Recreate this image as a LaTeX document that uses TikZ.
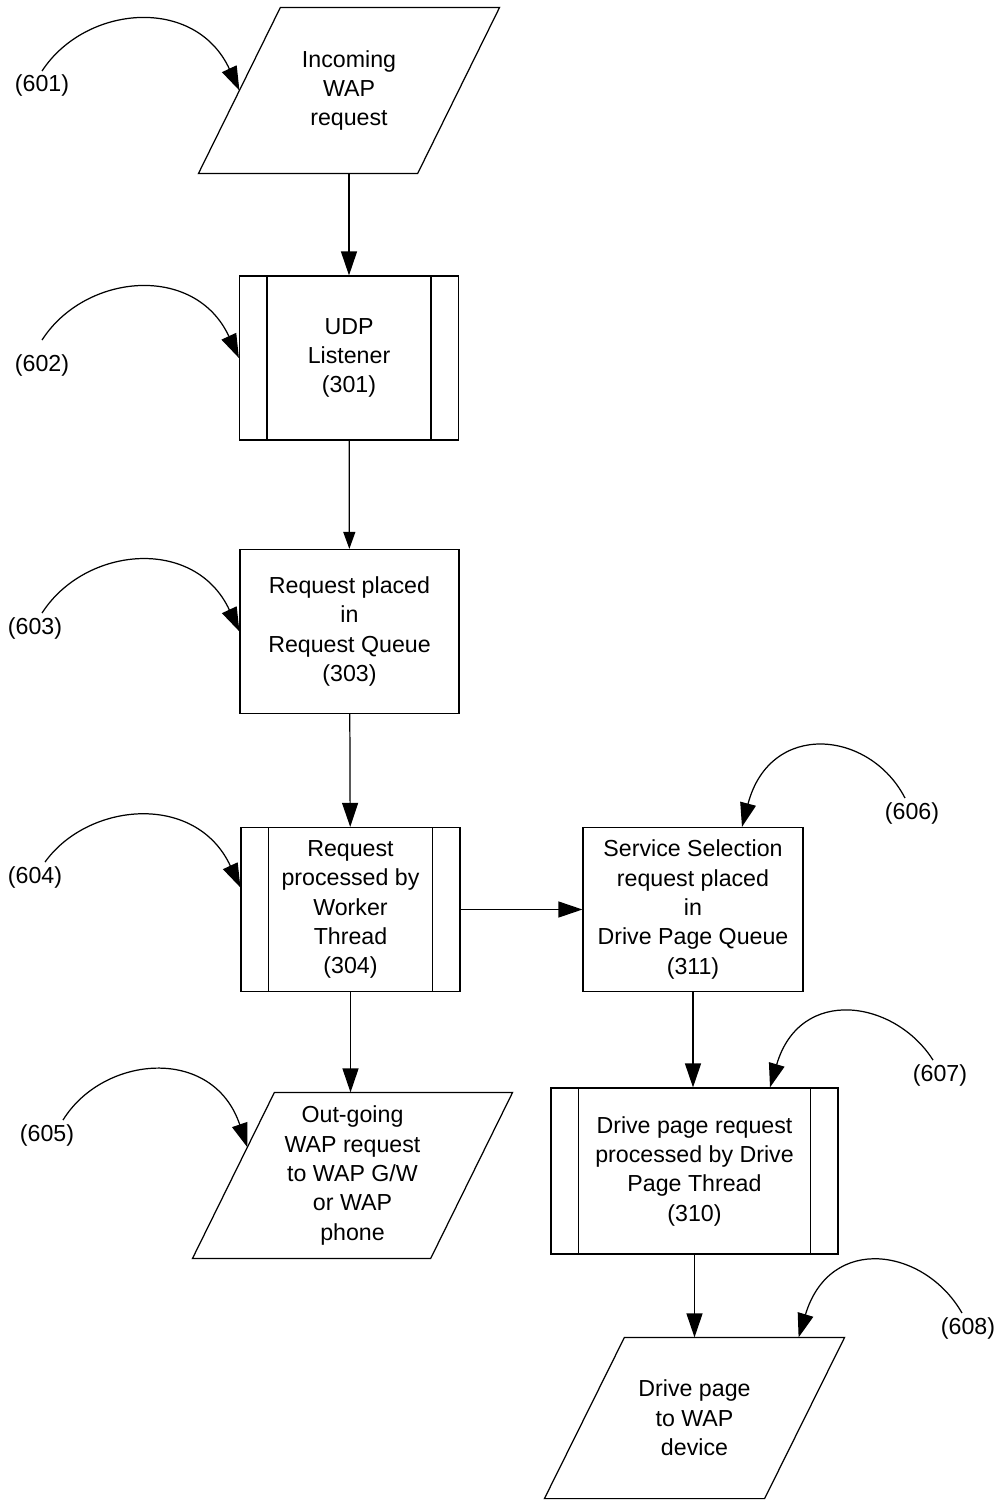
\documentclass[tikz,border=0pt]{standalone}
\usepackage{fontspec}
\setmainfont{Liberation Sans}
\usepackage{tikz}
\usetikzlibrary{arrows.meta, calc}

\begin{document}
\begin{tikzpicture}[x=0.02cm, y=-0.02cm, line width=0.7pt,
        font=\fontsize{13.2}{16.7}\selectfont,
        box/.style={draw, align=center, minimum width=4.38cm, minimum height=3.28cm, inner sep=0pt},
        pbox/.style={box, path picture={
            \draw ([xshift=0.55cm]path picture bounding box.north west) -- ([xshift=0.55cm]path picture bounding box.south west);
            \draw ([xshift=-0.55cm]path picture bounding box.north east) -- ([xshift=-0.55cm]path picture bounding box.south east);}},
        io/.style={align=center, minimum width=6cm, minimum height=3.3cm, inner sep=0pt,
            append after command={\pgfextra{\draw ([xshift=#1]\tikzlastnode.north west) -- (\tikzlastnode.north east)
                -- ([xshift=-#1]\tikzlastnode.south east) -- (\tikzlastnode.south west) -- cycle;}}},
        io/.default=1.64cm,
        lbl/.style={inner sep=2pt},
        arr/.style={-{Triangle[length=0.48cm, width=0.32cm]}},
        sarr/.style={-{Triangle[length=0.34cm, width=0.24cm]}}]
        \useasboundingbox (0,0) rectangle (998,1500);

        \node[io] (1) at (349, 90.5) {Incoming\\WAP\\request};
        \node[pbox] (2) at (349, 358) {UDP\\Listener\\(301)};
        \node[box] (3) at (349.5, 631.5) {Request placed\\in\\Request Queue\\(303)};
        \node[pbox] (4) at (350.5, 909.5) {Request\\processed by\\Worker\\Thread\\(304)};
        \node[io, minimum width=6.38cm] (5) at (352.5, 1175.5) {Out-going\\WAP request\\to WAP G/W\\or WAP\\phone};
        \node[box, minimum width=4.4cm] (6) at (693, 909.5) {Service Selection\\request placed\\in\\Drive Page Queue\\(311)};
        \node[pbox, minimum width=5.74cm, minimum height=3.32cm] (7) at (694.5, 1171) {Drive page request\\processed by Drive\\Page Thread\\(310)};
        \node[io=1.6cm, minimum width=5.98cm, minimum height=3.2cm] (8) at (694.5, 1418) {Drive page\\to WAP\\device};

        \node[lbl] (601) at (42, 86) {(601)};
        \node[lbl] (602) at (42, 365) {(602)};
        \node[lbl] (603) at (35, 628) {(603)};
        \node[lbl] (604) at (35, 877) {(604)};
        \node[lbl] (605) at (47, 1135) {(605)};
        \node[lbl] (606) at (912, 813) {(606)};
        \node[lbl] (607) at (940, 1075) {(607)};
        \node[lbl] (608) at (968, 1328) {(608)};

        \draw[arr] (1) -- (2);
        \draw[sarr] (2) -- (3);
        \draw[arr] (3) -- (4);
        \draw[arr] (4) -- (6);
        \draw[arr] (4) -- (4 |- 5.north);
        \draw[arr] (6) -- (6 |- 7.north);
        \draw[arr] (7) -- (7 |- 8.north);

        \draw[arr] (601.north) .. controls (85, 5) and (195, -5) .. ([xshift=0.82cm]1.west);
        \draw[arr] ([yshift=0.2cm]602.north) .. controls (85, 273) and (195, 263) .. (2.west);
        \draw[arr] ([xshift=0.14cm]603.north) .. controls (85, 546) and (195, 536) .. (3.west);
        \draw[arr] ([xshift=0.2cm]604.north) .. controls (88, 802) and (196, 792) .. ([yshift=0.44cm]4.west);
        \draw[arr] ([xshift=0.32cm]605.north) .. controls (103, 1055) and (213, 1045) .. ($(5.south west)!0.67!([xshift=1.64cm]5.north west)$);
        \draw[arr] ([xshift=-0.14cm]606.north) .. controls (870, 730) and (770, 720) .. ([xshift=0.98cm]6.north);
        \draw[arr] ([xshift=-0.14cm]607.north) .. controls (895, 1000) and (800, 985) .. ([xshift=1.51cm]7.north);
        \draw[arr] ([xshift=-0.12cm]608.north) .. controls (925, 1248) and (830, 1233) .. ([xshift=-0.92cm]8.north east);
\end{tikzpicture}
\end{document}
